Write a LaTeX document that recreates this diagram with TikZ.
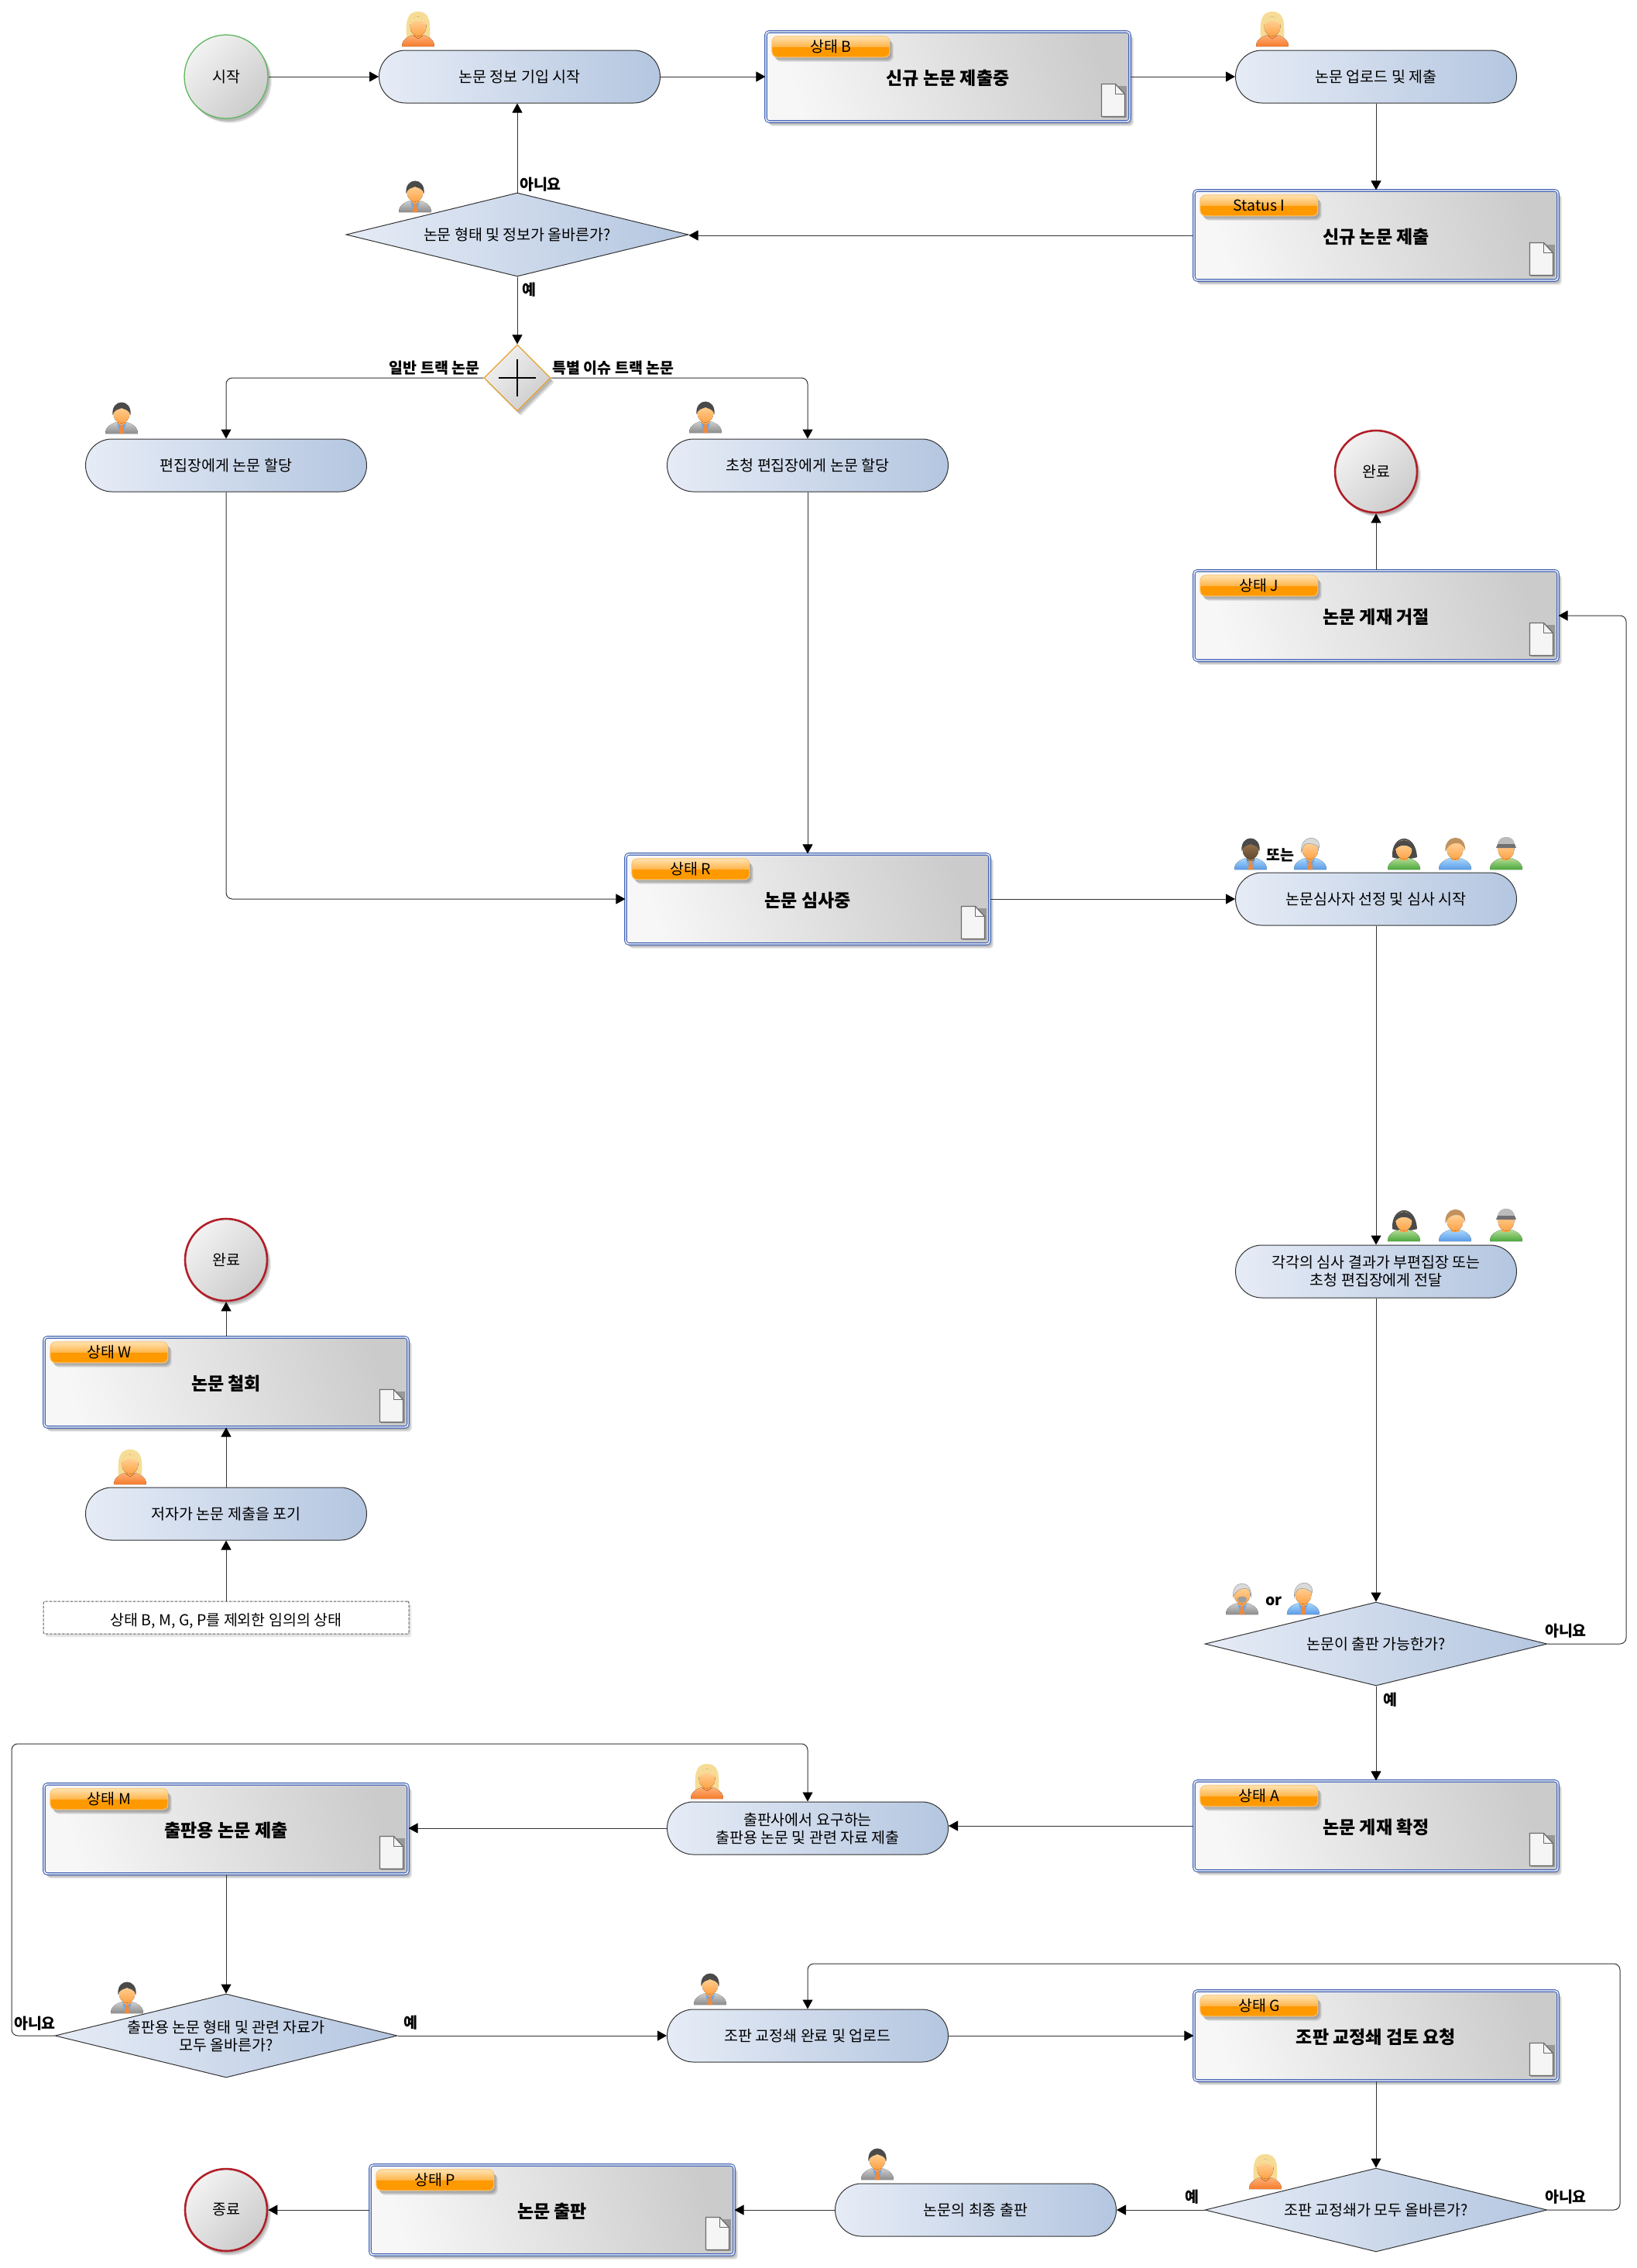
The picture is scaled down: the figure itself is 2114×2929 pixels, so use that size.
\documentclass[tikz,border=0pt]{standalone}
\usepackage{fontspec}
\setmainfont{Noto Sans CJK KR}
\usetikzlibrary{arrows.meta,shapes.geometric,shadows,calc}
\definecolor{pl}{HTML}{E6ECF6}\definecolor{pr}{HTML}{B4C6E0}
\definecolor{sl}{HTML}{F7F7F7}\definecolor{sr}{HTML}{CBCBCB}
\definecolor{cl}{HTML}{F2F2F2}\definecolor{cr}{HTML}{CCCCCC}
\definecolor{edge}{HTML}{333333}\definecolor{sb}{HTML}{4566B4}
\definecolor{skinA}{HTML}{FFD9A3}\definecolor{skinB}{HTML}{FFA347}
\definecolor{orA}{HTML}{FFB27A}\definecolor{orB}{HTML}{F57A2A}
\definecolor{blA}{HTML}{A8D8FF}\definecolor{blB}{HTML}{5A9AE6}
\definecolor{grA}{HTML}{B4DC96}\definecolor{grB}{HTML}{4BA83C}
\definecolor{gyA}{HTML}{CFCFCF}\definecolor{gyB}{HTML}{8C8C8C}
\definecolor{hairD}{HTML}{4A4A4A}\definecolor{hairG}{HTML}{DADADA}
\definecolor{hairY}{HTML}{F6DC96}\definecolor{hairB}{HTML}{C0925F}
\definecolor{tieC}{HTML}{F08A3C}\definecolor{shirtC}{HTML}{6FA8E8}
\definecolor{tabO}{HTML}{FF9900}\definecolor{tabM}{HTML}{FFB54A}\definecolor{tabT}{HTML}{FFE2B0}
\definecolor{gateO}{HTML}{E8A030}
\definecolor{startG}{HTML}{5DB85D}\definecolor{endR}{HTML}{B01F28}
\pgfdeclareverticalshading{tabshade}{100bp}{color(0bp)=(tabO);color(25bp)=(tabO);color(50bp)=(tabO);color(50.01bp)=(tabM);color(75bp)=(tabT);color(100bp)=(tabT)}
\newcommand\lo[2]{\raisebox{-#1}[\height][\depth]{#2}}
\tikzset{
  base font/.style={font=\fontsize{19.5}{23}\selectfont},
  softshadow/.style={
    drop shadow={shadow xshift=5pt,shadow yshift=-6pt,opacity=.07,fill=black},
    drop shadow={shadow xshift=4pt,shadow yshift=-5pt,opacity=.10,fill=black},
    drop shadow={shadow xshift=2.5pt,shadow yshift=-3.5pt,opacity=.14,fill=black}},
  procnode/.style={base font,rounded corners=34pt,draw=edge,line width=1pt,minimum width=363pt,minimum height=68pt,inner sep=0pt,align=center,left color=pl,right color=pr},
  statenode/.style={font=\fontsize{23}{27}\selectfont\bfseries,rounded corners=4pt,draw=sb,line width=1.1pt,double=white,double distance=1.4pt,minimum width=470pt,minimum height=116pt,inner sep=0pt,align=center,shading=axis,left color=sl,right color=sr,shading angle=105,softshadow},
  tabnode/.style={base font,rounded corners=7pt,draw=tabM!80!white,line width=1pt,minimum width=152pt,minimum height=27pt,inner sep=0pt,shading=tabshade,softshadow},
  decision/.style={base font,diamond,shape aspect=4.1,draw=edge,line width=1pt,minimum width=442pt,minimum height=108pt,inner sep=0pt,left color=pl,right color=pr},
  gatenode/.style={diamond,shape aspect=1,draw=gateO,line width=1.2pt,minimum width=86pt,minimum height=86pt,inner sep=0pt,shading=axis,left color=cl,right color=cr,shading angle=45,softshadow},
  startnode/.style={base font,circle,draw=startG,line width=1.3pt,minimum size=108pt,inner sep=0pt,shading=axis,left color=cl,right color=cr,shading angle=45,softshadow},
  endnode/.style={base font,circle,draw=endR,line width=2.6pt,minimum size=106pt,inner sep=0pt,shading=axis,left color=cl,right color=cr,shading angle=45,softshadow},
  anynode/.style={base font,rounded corners=2pt,draw=gyB!60!black,densely dashdotted,line width=1pt,minimum width=472pt,minimum height=42pt,inner sep=0pt,fill=white,drop shadow={shadow xshift=3pt,shadow yshift=-4pt,opacity=.10,fill=black}},
  conn/.style={draw=edge,line width=1pt,rounded corners=8pt,-{Triangle[length=12pt,width=13pt,color=black]}},
  tag/.style={font=\fontsize{19.5}{23}\selectfont\bfseries,inner sep=0pt},
}
% state box with tab and page icon
\newcommand\statebox[5]{%
  \node[statenode] (#1) at (#2,#3) {\lo{2pt}{#5}};
  \node[tabnode,anchor=north west] (#1-tab) at ($(#1.north west)+(8,6)$) {#4};
  \begin{scope}[shift={(#1.north west)}]
    \fill[black,opacity=.25] (436,71) -- (467,71) -- (467,112) -- (436,112) -- cycle;
    \draw[gray!85!black,line width=1.3pt,fill=gray!8,line join=round] (434,68) -- (452,68) -- (464,81) -- (464,110) -- (434,110) -- cycle;
    \draw[gray!85!black,line width=1.3pt,line join=round] (452,68) -- (452,81) -- (464,81);
  \end{scope}}
% people: shared parts
\newcommand\ppbody[2]{\fill[top color=#1,bottom color=#2] (-21,0) .. controls (-21,-9) and (-13,-13) .. (-6,-15) -- (6,-15) .. controls (13,-13) and (21,-9) .. (21,0) -- cycle;}
\newcommand\ppface{\fill[skinB] (-5,-18) rectangle (5,-12);\fill[top color=skinA,bottom color=skinB] (0,-26) ellipse (10.5pt and 12.5pt);}
\newcommand\pptie{\fill[shirtC] (-6,-14) -- (6,-14) -- (2,0) -- (-2,0) -- cycle;\fill[tieC] (-2,-11) -- (2,-11) -- (3,0) -- (-3,0) -- cycle;\fill[skinB] (-5,-16) -- (5,-16) -- (0,-10) -- cycle;}
\newcommand\pFemale[2]{\begin{scope}[shift={(#1,#2)}]
  \fill[hairY] (-15,-8) .. controls (-16,-30) and (-16,-45) .. (0,-45) .. controls (16,-45) and (16,-30) .. (15,-8) -- cycle;
  \ppbody{orA}{orB}\ppface
  \fill[hairY] (-10,-28) .. controls (-6,-35) and (6,-35) .. (10,-28) .. controls (11,-42) and (-11,-42) .. (-10,-28) -- cycle;
  \draw[orB!70!black,line width=.5pt] (-6,-14) -- (0,-10) -- (6,-14);
\end{scope}}
\newcommand\pMale[2]{\begin{scope}[shift={(#1,#2)}]
  \ppbody{gyA}{gyB}\pptie\ppface
  \fill[hairD] (-11.5,-24) .. controls (-14,-46) and (14,-46) .. (11.5,-24) .. controls (9,-32) and (3,-31) .. (0,-33) .. controls (-3,-31) and (-9,-32) .. (-11.5,-24) -- cycle;
\end{scope}}
\newcommand\pDark[2]{\begin{scope}[shift={(#1,#2)}]
  \ppbody{blA}{blB}\pptie
  \fill[hairB!80!black] (-5,-18) rectangle (5,-11);
  \fill[top color=hairB!85!black,bottom color=hairB!50!black] (0,-26) ellipse (10.5pt and 12.5pt);
  \fill[hairD] (-11.5,-24) .. controls (-14,-46) and (14,-46) .. (11.5,-24) .. controls (9,-32) and (3,-31) .. (0,-33) .. controls (-3,-31) and (-9,-32) .. (-11.5,-24) -- cycle;
\end{scope}}
\newcommand\pGray[2]{\begin{scope}[shift={(#1,#2)}]
  \ppbody{blA}{blB}\pptie\ppface
  \fill[hairG,draw=gyB,line width=.4pt] (-11.5,-22) .. controls (-14,-46) and (14,-46) .. (11.5,-28) .. controls (6,-34) and (-2,-34) .. (-6,-33) .. controls (-9,-31) and (-10,-27) .. (-11.5,-22) -- cycle;
\end{scope}}
\newcommand\pBeard[2]{\begin{scope}[shift={(#1,#2)}]
  \ppbody{gyA}{gyB}\pptie\ppface
  \fill[hairG,draw=gyB,line width=.4pt] (-11.5,-22) .. controls (-14,-46) and (14,-46) .. (11.5,-22) .. controls (11,-30) and (9,-33) .. (4,-34) .. controls (0,-33) and (-8,-33) .. (-11.5,-22) -- cycle;
  \fill[gyB!85!white] (-6,-21) .. controls (-6,-13) and (6,-13) .. (6,-21) .. controls (3,-24) and (-3,-24) .. (-6,-21) -- cycle;
\end{scope}}
\newcommand\pGreenW[2]{\begin{scope}[shift={(#1,#2)}]
  \fill[hairD] (-15,-16) .. controls (-17,-46) and (15,-50) .. (17,-16) .. controls (10,-13) and (-10,-13) .. (-15,-16) -- cycle;
  \ppbody{grA}{grB}\ppface
  \fill[hairD] (-11,-26) .. controls (-10,-42) and (10,-42) .. (11,-26) .. controls (6,-33) and (-6,-33) .. (-11,-26) -- cycle;
\end{scope}}
\newcommand\pBlueW[2]{\begin{scope}[shift={(#1,#2)}]
  \ppbody{blA}{blB}\ppface
  \fill[hairB] (-12.5,-23) .. controls (-15,-46) and (15,-48) .. (13,-24) .. controls (11,-32) and (6,-35) .. (0,-34) .. controls (-6,-33) and (-10,-30) .. (-12.5,-23) -- cycle;
\end{scope}}
\newcommand\pHat[2]{\begin{scope}[shift={(#1,#2)}]
  \ppbody{grA}{grB}\ppface
  \fill[gyA!70!gyB] (-11,-31) .. controls (-12,-46) and (12,-46) .. (11,-31) -- cycle;
  \fill[gyB!80!black] (-13,-28) -- (13,-28) -- (11,-33) -- (-11,-33) -- cycle;
\end{scope}}
\begin{document}
\begin{tikzpicture}[x=1pt,y=-1pt]
\useasboundingbox (0,0) rectangle (2114,2929);
% free ends of the long return paths
\coordinate (turnJ) at (2100,1500);
\coordinate (turnG) at (2092,2536);
\coordinate (turnM) at (15,2252);
% nodes
\node[startnode] (start) at (292,99) {시작};
\node[procnode] (info) at (671,99) {논문 정보 기입 시작};
\statebox{stB}{1224}{99}{상태 B}{신규 논문 제출중}
\node[procnode] (upload) at (1777,99) {논문 업로드 및 제출};
\statebox{stI}{1777}{304}{Status I}{신규 논문 제출}
\node[decision] (check) at (668,303) {\makebox[0pt]{논문 형태 및 정보가 올바른가?}};
\node[gatenode] (gate) at (668,488) {};
\draw[line width=2.6pt,black] ($(gate)+(-24,0)$) -- ($(gate)+(24,0)$) ($(gate)+(0,-24)$) -- ($(gate)+(0,24)$);
\node[procnode] (assignA) at (292,601) {편집장에게 논문 할당};
\node[procnode] (assignB) at (1043,601) {초청 편집장에게 논문 할당};
\node[endnode] (rejEnd) at (1777,609) {완료};
\statebox{stJ}{1777}{795}{상태 J}{논문 게재 거절}
\statebox{stR}{1043}{1161}{상태 R}{논문 심사중}
\node[procnode] (review) at (1777,1161) {논문심사자 선정 및 심사 시작};
\node[procnode] (results) at (1777,1642) {\lo{2.5pt}{\begin{tabular}{@{}c@{}}각각의 심사 결과가 부편집장 또는\\초청 편집장에게 전달\end{tabular}}};
\node[endnode] (wdEnd) at (292,1627) {완료};
\statebox{stW}{292}{1785}{상태 W}{논문 철회}
\node[procnode] (giveup) at (292,1955) {저자가 논문 제출을 포기};
\node[anynode] (anystate) at (292,2089) {\lo{4pt}{상태 B, M, G, P를 제외한 임의의 상태}};
\node[decision] (publishable) at (1777,2123) {\makebox[0pt]{논문이 출판 가능한가?}};
\statebox{stA}{1777}{2358}{상태 A}{논문 게재 확정}
\node[procnode] (material) at (1043,2361) {\lo{3pt}{\begin{tabular}{@{}c@{}}출판사에서 요구하는\\출판용 논문 및 관련 자료 제출\end{tabular}}};
\statebox{stM}{292}{2362}{상태 M}{출판용 논문 제출}
\node[decision] (formcheck) at (292,2629) {\makebox[0pt]{\lo{3pt}{\begin{tabular}{@{}c@{}}출판용 논문 형태 및 관련 자료가\\모두 올바른가?\end{tabular}}}};
\node[procnode] (proofup) at (1043,2629) {조판 교정쇄 완료 및 업로드};
\statebox{stG}{1777}{2629}{상태 G}{조판 교정쇄 검토 요청}
\node[decision] (proofok) at (1777,2854) {\makebox[0pt]{조판 교정쇄가 모두 올바른가?}};
\node[procnode] (final) at (1260,2854) {논문의 최종 출판};
\statebox{stP}{713}{2854}{상태 P}{논문 출판}
\node[endnode] (finEnd) at (292,2854) {종료};
% connectors
\draw[conn] (start) -- (info);
\draw[conn] (info) -- (stB);
\draw[conn] (stB) -- (upload);
\draw[conn] (upload) -- (stI);
\draw[conn] (stI.west) -- (stI.west -| check.east);
\draw[conn] (check.north) -- (check.north |- info.south);
\draw[conn] (check.south) -- (gate.north);
\draw[conn] (gate.west) -| (assignA.north);
\draw[conn] (gate.east) -| (assignB.north);
\draw[conn] (assignA.south) |- (stR.west);
\draw[conn] (assignB.south) -- (stR.north);
\draw[conn] (stR.east) -- (review.west);
\draw[conn] (review.south) -- (results.north);
\draw[conn] (results.south) -- (publishable.north);
\draw[conn] (publishable.east) -| (turnJ) |- (stJ.east);
\draw[conn] (stJ.north) -- (rejEnd.south);
\draw[conn] (publishable.south) -- (stA.north);
\draw[conn] (stA.west) -- (stA.west -| material.east);
\draw[conn] (material.west) -- (material.west -| stM.east);
\draw[conn] (stM.south) -- (formcheck.north);
\draw[conn] (formcheck.west) -| (turnM) -| (material.north);
\draw[conn] (formcheck.east) -- (proofup.west);
\draw[conn] (proofup.east) -- (stG.west);
\draw[conn] (stG.south) -- (proofok.north);
\draw[conn] (proofok.east) -| (turnG) -| (proofup.north);
\draw[conn] (proofok.west) -- (final.east);
\draw[conn] (final.west) -- (stP.east);
\draw[conn] (stP.west) -- (finEnd.east);
\draw[conn] (anystate.north) -- (giveup.south);
\draw[conn] (giveup.north) -- (stW.south);
\draw[conn] (stW.north) -- (wdEnd.south);
% connector labels
\node[tag] (l1) at (698,238) {아니요};
\node[tag] (l2) at (683,374) {예};
\node[tag] (l3) at (561,475) {일반 트랙 논문};
\node[tag] (l4) at (792,475) {특별 이슈 트랙 논문};
\node[tag] (l5) at (2022,2106) {아니요};
\node[tag] (l6) at (1795,2195) {예};
\node[tag] (l7) at (45,2613) {아니요};
\node[tag] (l8) at (530,2612) {예};
\node[tag] (l9) at (2022,2837) {아니요};
\node[tag] (l10) at (1539,2837) {예};
\node[tag] (l11) at (1653,1104) {또는};
\node[tag] (l12) at (1645,2068) {or};
% people
\pFemale{540}{60}
\pFemale{1643}{60}
\pMale{536}{274}
\pMale{157}{560}
\pMale{911}{559}
\pDark{1615}{1123}
\pGray{1692}{1123}
\pGreenW{1813}{1123}
\pBlueW{1879}{1123}
\pHat{1945}{1123}
\pGreenW{1813}{1603}
\pBlueW{1879}{1603}
\pHat{1945}{1603}
\pBeard{1604}{2085}
\pGray{1683}{2085}
\pFemale{168}{1917}
\pFemale{913}{2323}
\pMale{164}{2600}
\pMale{917}{2589}
\pMale{1133}{2815}
\pFemale{1634}{2827}
\end{tikzpicture}
\end{document}
